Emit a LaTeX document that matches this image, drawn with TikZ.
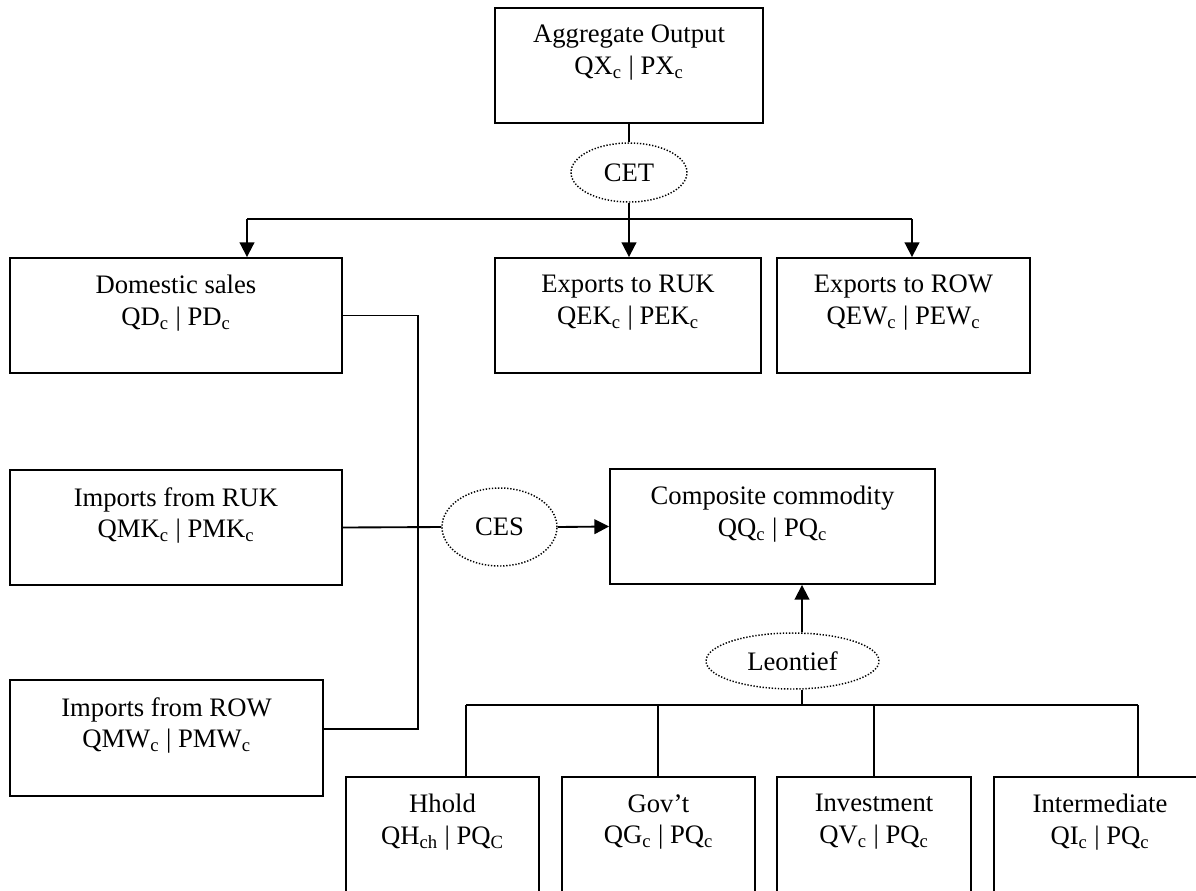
\documentclass[tikz,border=0pt]{standalone}
\usepackage{fontspec}
\setmainfont{Liberation Serif}
\usetikzlibrary{positioning,shapes.geometric,arrows.meta}

\tikzset{
  box/.style={draw, rectangle, line width=1.4pt, inner sep=0pt},
  txt/.style={align=center, inner sep=0pt, font=\fontsize{20}{23.5}\selectfont},
  fn/.style={draw, ellipse, line width=1.1pt, dash pattern=on 1pt off 1.3pt, inner sep=0pt, font=\fontsize{20}{23.5}\selectfont},
  link/.style={line width=1.4pt},
  arr/.style={link, -{Triangle[length=11pt,width=11pt]}},
}
\newcommand{\sbs}[1]{\textsubscript{#1}}

\begin{document}
\begin{tikzpicture}[x=0.75pt,y=0.75pt,yscale=-1]
\useasboundingbox (0,0) rectangle (1196,890);
\clip (0,0) rectangle (1196,890);

%Boxes
\node[box, minimum width=201pt, minimum height=86.25pt] (agg) at (629,65.5) {};
\node[box, minimum width=249pt, minimum height=86.25pt] (dom) at (176,315.5) {};
\node[box, minimum width=199.5pt, minimum height=86.25pt] (exk) at (628,315.5) {};
\node[box, minimum width=189.75pt, minimum height=86.25pt] (exw) at (903.5,315.5) {};
\node[box, minimum width=249pt, minimum height=86.25pt] (imk) at (176,527.5) {};
\node[box, minimum width=234.75pt, minimum height=87pt] (imw) at (166.5,738) {};
\node[box, minimum width=243.75pt, minimum height=86.25pt] (comp) at (772.5,526.5) {};
\node[box, minimum width=144.75pt, minimum height=96pt] (hh) at (442.5,841) {};
\node[box, minimum width=144.75pt, minimum height=96pt] (gov) at (658.5,841) {};
\node[box, minimum width=145.5pt, minimum height=96pt] (inv) at (874,841) {};
\node[box, minimum width=159pt, minimum height=96pt] (int) at (1100,841) {};

%Box texts
\node[txt, below=13.5pt of agg.north] (aggT) {Aggregate Output\\QX\sbs{c} | PX\sbs{c}};
\node[txt, below=13.5pt of dom.north] (domT) {Domestic sales\\QD\sbs{c} | PD\sbs{c}};
\node[txt, below=13.5pt of exk.north] (exkT) {Exports to RUK\\QEK\sbs{c} | PEK\sbs{c}};
\node[txt, below=13.5pt of exw.north] (exwT) {Exports to ROW\\QEW\sbs{c} | PEW\sbs{c}};
\node[txt, below=13.5pt of imk.north] (imkT) {Imports from RUK\\QMK\sbs{c} | PMK\sbs{c}};
\node[txt, below=13.5pt of imw.north] (imwT) {Imports from ROW\\QMW\sbs{c} | PMW\sbs{c}};
\node[txt, below=13.5pt of comp.north] (compT) {Composite commodity\\QQ\sbs{c} | PQ\sbs{c}};
\node[txt, below=13.5pt of hh.north] (hhT) {Hhold\\QH\sbs{ch} | PQ\sbs{C}};
\node[txt, below=13.5pt of gov.north] (govT) {Gov’t\\QG\sbs{c} | PQ\sbs{c}};
\node[txt, below=13.5pt of inv.north] (invT) {Investment\\QV\sbs{c} | PQ\sbs{c}};
\node[txt, below=13.5pt of int.north] (intT) {Intermediate\\QI\sbs{c} | PQ\sbs{c}};

%Functions
\node[fn, minimum width=87pt, minimum height=44.25pt] (cet) at (629,172.5) {CET};
\node[fn, minimum width=86.25pt, minimum height=58.5pt] (ces) at (499.5,527) {CES};
\node[fn, minimum width=129.75pt, minimum height=42pt] (leon) at (792.5,661) {Leontief};

%CET split
\coordinate (busL) at (247,219);
\coordinate (busR) at (912,219);
\draw[link] (agg.south) -- (cet.north);
\draw[link] (cet.south) -- (cet.south |- busL);
\draw[link] (busL) -- (busR);
\draw[arr] (busL) -- (busL |- dom.north);
\draw[arr] (cet.south |- busL) -- (cet.south |- exk.north);
\draw[arr] (busR) -- (busR |- exw.north);

%CES aggregation
\coordinate (jnB) at (418,729);
\draw[link] (dom.east) -| (jnB) -- (jnB -| imw.east);
\draw[link] (imk.east) -- (ces.west);
\draw[arr] (ces.east) -- (comp.west);

%Leontief demand
\coordinate (lx) at (802,705);
\draw[arr] (leon.north -| lx) -- (comp.south -| lx);
\draw[link] (leon.south -| lx) -- (lx);
\foreach \x/\b in {466/hh,658/gov,874/inv,1138/int} {
  \coordinate (t\b) at (\x,705);
  \draw[link] (t\b) -- (t\b |- \b.north);
}
\draw[link] (thh) -- (tint);

\end{tikzpicture}
\end{document}
